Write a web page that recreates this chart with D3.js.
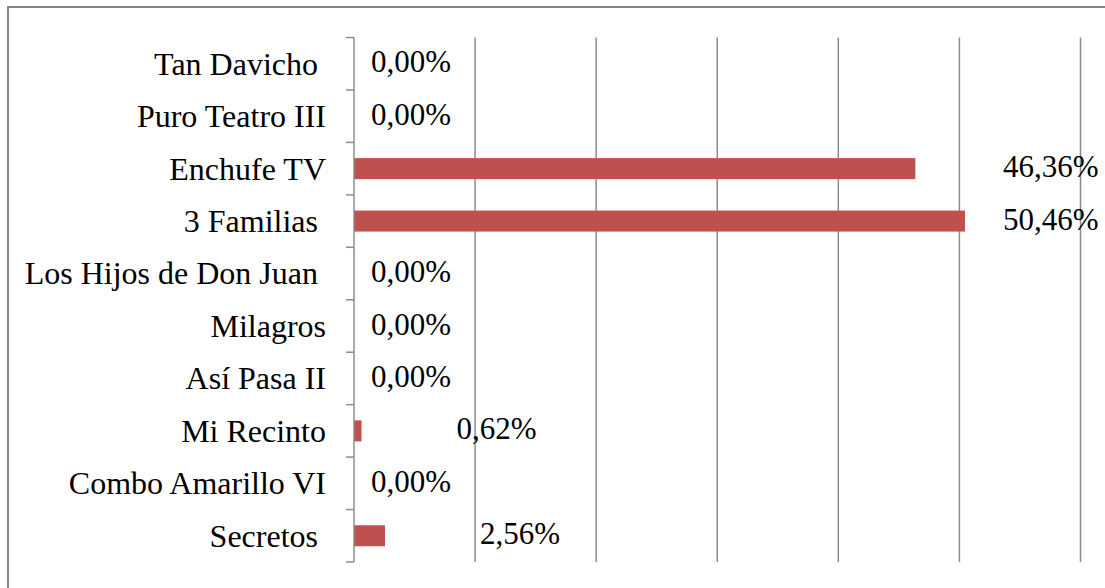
<!DOCTYPE html>
<html>
<head>
<meta charset="utf-8">
<script src="https://cdn.jsdelivr.net/npm/d3@7"></script>
<style>
  body { margin: 0; background: #fff; }
  text { font-family: "Liberation Serif", "Times New Roman", serif; white-space: pre; }
</style>
</head>
<body>
<script>
// categories, top to bottom (trailing spaces as in the source sheet)
let categories = ["Tan Davicho ", "Puro Teatro III", "Enchufe TV", "3 Familias ",
  "Los Hijos de Don Juan ", "Milagros", "Así Pasa II", "Mi Recinto",
  "Combo Amarillo VI", "Secretos "];
let values = [0, 0, 46.36, 50.46, 0, 0, 0, 0.62, 0, 2.56];
let gridTicks = [0, 10, 20, 30, 40, 50, 60];

let W = 1105, H = 588;
let margin = { top: 37.5, right: 25, bottom: 26, left: 354 };

let svg = d3.select("body").append("svg")
  .attr("width", W)
  .attr("height", H);

// outer chart frame
svg.append("rect")
  .attr("x", 8).attr("y", 7)
  .attr("width", W + 20).attr("height", H + 20)
  .attr("fill", "none")
  .attr("stroke", "#878787")
  .attr("stroke-width", 2);

let x = d3.scaleLinear().domain([0, 60]).range([margin.left, 1080.5]);
let y = d3.scaleBand().domain(categories).range([margin.top, H - margin.bottom]).paddingInner(0).paddingOuter(0);
let bh = 21;

// vertical gridlines
svg.append("g").selectAll("line")
  .data(gridTicks.slice(1))
  .join("line")
  .attr("x1", d => x(d)).attr("x2", d => x(d))
  .attr("y1", margin.top).attr("y2", H - margin.bottom)
  .attr("stroke", "#8c8c8c")
  .attr("stroke-width", 1.5);

// bars
svg.append("g").selectAll("rect")
  .data(values)
  .join("rect")
  .attr("x", x(0))
  .attr("y", (d, i) => y(categories[i]) + y.bandwidth() / 2 - bh / 2)
  .attr("width", d => x(d) - x(0))
  .attr("height", bh)
  .attr("fill", "#c0504d");

// category axis
let yg = svg.append("g").attr("transform", "translate(" + x(0) + ",0)");
yg.append("line")
  .attr("x1", 0).attr("x2", 0)
  .attr("y1", margin.top).attr("y2", H - margin.bottom)
  .attr("stroke", "#8c8c8c").attr("stroke-width", 1.5);
// ticks at band boundaries
let bounds = categories.map(c => y(c)).concat([H - margin.bottom]);
yg.selectAll("line.tick")
  .data(bounds)
  .join("line")
  .attr("class", "tick")
  .attr("x1", -8).attr("x2", 0)
  .attr("y1", d => d).attr("y2", d => d)
  .attr("stroke", "#8c8c8c").attr("stroke-width", 1.5);

yg.selectAll("text.cat")
  .data(categories)
  .join("text")
  .attr("class", "cat")
  .attr("x", -28)
  .attr("y", d => y(d) + y.bandwidth() / 2)
  .attr("dy", "0.34em")
  .attr("text-anchor", "end")
  .attr("font-size", 32)
  .attr("fill", "#000")
  .text(d => d);

// value labels
let fmt = v => v.toFixed(2).replace(".", ",") + "%";
svg.append("g").selectAll("text")
  .data(values)
  .join("text")
  .attr("x", d => d === 0 ? x(0) + 17 : Math.min(x(d) + 95, 1003))
  .attr("y", (d, i) => y(categories[i]) + y.bandwidth() / 2 - 2)
  .attr("dy", "0.34em")
  .attr("font-size", 31)
  .attr("fill", "#000")
  .text(d => fmt(d));
</script>
</body>
</html>
